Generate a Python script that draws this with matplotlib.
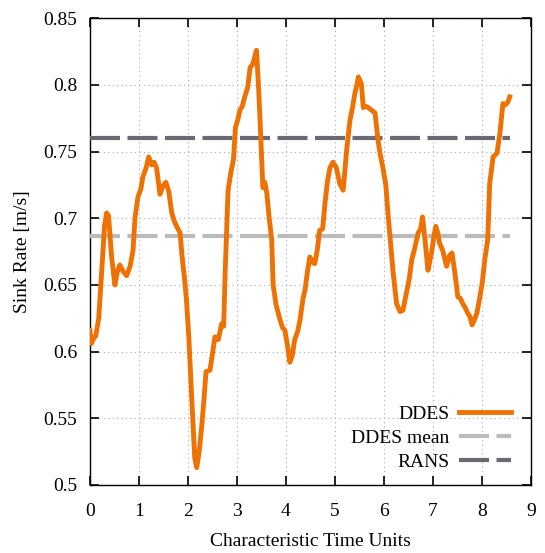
import numpy as np
import matplotlib.pyplot as plt

# DDES sink rate trace
t_ddes = [0.00, 0.03, 0.06, 0.12, 0.18, 0.24, 0.30, 0.34, 0.38, 0.44, 0.51, 0.56, 0.61,
          0.68, 0.75, 0.82, 0.88, 0.92, 0.98, 1.04, 1.08, 1.14, 1.20, 1.26, 1.31, 1.36,
          1.43, 1.49, 1.55, 1.61, 1.67, 1.72, 1.77, 1.84, 1.88, 1.93, 1.97, 2.02, 2.07,
          2.14, 2.18, 2.23, 2.28, 2.33, 2.37, 2.45, 2.50, 2.55, 2.62, 2.69, 2.73, 2.76,
          2.79, 2.82, 2.88, 2.93, 2.97, 3.02, 3.06, 3.11, 3.16, 3.22, 3.27, 3.33, 3.37,
          3.40, 3.44, 3.47, 3.53, 3.57, 3.61, 3.66, 3.71, 3.74, 3.80, 3.88, 3.93, 3.98,
          4.03, 4.08, 4.13, 4.18, 4.24, 4.29, 4.35, 4.39, 4.44, 4.49, 4.54, 4.59, 4.64,
          4.69, 4.75, 4.80, 4.85, 4.90, 4.96, 5.03, 5.10, 5.17, 5.24, 5.31, 5.36, 5.41,
          5.45, 5.48, 5.54, 5.58, 5.63, 5.68, 5.75, 5.82, 5.88, 5.92, 5.98, 6.04, 6.09,
          6.16, 6.19, 6.26, 6.33, 6.39, 6.47, 6.52, 6.57, 6.62, 6.67, 6.70, 6.75, 6.79,
          6.84, 6.90, 6.94, 6.98, 7.02, 7.06, 7.10, 7.14, 7.20, 7.28, 7.34, 7.39, 7.45,
          7.51, 7.56, 7.61, 7.66, 7.71, 7.76, 7.80, 7.85, 7.90, 7.96, 8.01, 8.06, 8.12,
          8.16, 8.23, 8.31, 8.37, 8.43, 8.48, 8.53, 8.57]
v_ddes = [0.616, 0.606, 0.609, 0.612, 0.625, 0.660, 0.695, 0.704, 0.702, 0.672, 0.650, 0.660, 0.665,
          0.660, 0.657, 0.664, 0.676, 0.700, 0.716, 0.722, 0.731, 0.737, 0.746, 0.740, 0.742, 0.738,
          0.718, 0.724, 0.727, 0.720, 0.704, 0.698, 0.694, 0.689, 0.672, 0.655, 0.639, 0.610, 0.571,
          0.520, 0.513, 0.525, 0.543, 0.565, 0.585, 0.586, 0.598, 0.611, 0.609, 0.621, 0.619, 0.659,
          0.690, 0.721, 0.735, 0.744, 0.768, 0.774, 0.781, 0.784, 0.791, 0.798, 0.813, 0.816, 0.822,
          0.826, 0.800, 0.776, 0.723, 0.727, 0.719, 0.700, 0.684, 0.650, 0.635, 0.624, 0.618, 0.616,
          0.605, 0.592, 0.597, 0.609, 0.615, 0.624, 0.640, 0.646, 0.660, 0.671, 0.667, 0.666, 0.676,
          0.691, 0.692, 0.712, 0.728, 0.738, 0.742, 0.738, 0.726, 0.721, 0.751, 0.774, 0.783, 0.794,
          0.800, 0.806, 0.801, 0.783, 0.784, 0.783, 0.781, 0.779, 0.759, 0.749, 0.738, 0.725, 0.701,
          0.671, 0.659, 0.636, 0.630, 0.631, 0.646, 0.655, 0.669, 0.676, 0.684, 0.689, 0.692, 0.701,
          0.684, 0.661, 0.668, 0.676, 0.686, 0.694, 0.689, 0.681, 0.676, 0.664, 0.672, 0.674, 0.659,
          0.641, 0.640, 0.636, 0.633, 0.629, 0.626, 0.620, 0.624, 0.629, 0.641, 0.652, 0.669, 0.684,
          0.726, 0.746, 0.749, 0.764, 0.786, 0.785, 0.787, 0.791]

ddes_mean = 0.6866
rans = 0.760
x_ticks = [0, 1, 2, 3, 4, 5, 6, 7, 8, 9]
y_ticks = [0.5, 0.55, 0.6, 0.65, 0.7, 0.75, 0.8, 0.85]
y_labels = ["0.5", "0.55", "0.6", "0.65", "0.7", "0.75", "0.8", "0.85"]

plt.rcParams['font.family'] = ['Liberation Serif', 'DejaVu Serif']
plt.rcParams['font.size'] = 14

fig = plt.figure(figsize=(5.45, 5.53), dpi=100)
ax = fig.add_axes([0.165, 0.123, 0.809, 0.844])

t_end = t_ddes[-1]
ax.plot(t_ddes, v_ddes, color="#ee7203", lw=3.5, label="DDES", zorder=4,
        solid_joinstyle="round")
ax.plot([0, t_end], [ddes_mean, ddes_mean], color="#bbbbbb", lw=3.0,
        dashes=(7.2, 1.8), label="DDES mean", zorder=3)
ax.plot([0, t_end], [rans, rans], color="#6a6a72", lw=3.0,
        dashes=(7.2, 1.8), label="RANS", zorder=3)

ax.set_xlim(0, 9)
ax.set_ylim(0.5, 0.85)
ax.set_xticks(x_ticks)
ax.set_yticks(y_ticks)
ax.set_yticklabels(y_labels)
ax.tick_params(direction="in", length=6.5, width=1.2, top=True, right=True)
ax.tick_params(axis="x", pad=13)
ax.tick_params(axis="y", pad=9)
ax.grid(True, linestyle=(0, (1, 3)), color="#aaaaaa", lw=0.8)
for s in ax.spines.values():
    s.set_linewidth(1.0)

ax.set_xlabel("Characteristic Time Units", labelpad=9)
ax.set_ylabel("Sink Rate [m/s]", labelpad=9)

ax.legend(loc="lower right", bbox_to_anchor=(0.955, 0.03), frameon=False,
          markerfirst=False, handlelength=2.65, labelspacing=0.34, borderpad=0,
          borderaxespad=0, handletextpad=0.5)

fig.savefig("out.png", dpi=100)
